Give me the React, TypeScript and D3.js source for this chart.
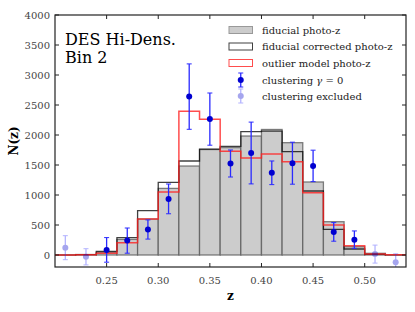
import React from "react";
import * as d3 from "d3";

// bin left edges (width 0.02)
const binStarts = [0.2, 0.22, 0.24, 0.26, 0.28, 0.3, 0.32, 0.34, 0.36, 0.38, 0.4, 0.42, 0.44, 0.46, 0.48, 0.5, 0.52];
const binWidth = 0.02;

const fiducial = [0, 8, 45, 260, 600, 1110, 1483, 1758, 1790, 1983, 2092, 1872, 1217, 555, 138, 28, 0];
const corrected = [0, 5, 62, 290, 740, 1210, 1567, 1765, 1810, 2055, 2065, 1722, 1067, 428, 100, 12, 0];
const outlier = [0, 3, 28, 205, 600, 1050, 2395, 2262, 1730, 1615, 1683, 1555, 1038, 500, 155, 17, 3];

const zIncluded = [0.25, 0.27, 0.29, 0.31, 0.33, 0.35, 0.37, 0.39, 0.41, 0.43, 0.45, 0.47, 0.49];
const nIncluded = [85, 240, 425, 935, 2640, 2265, 1525, 1700, 1370, 1530, 1485, 385, 256];
const errIncluded = [205, 210, 160, 248, 545, 435, 225, 515, 197, 350, 262, 155, 145];

const zExcluded = [0.21, 0.23, 0.51, 0.53];
const nExcluded = [122, -30, 15, -120];
const errExcluded = [200, 135, 150, 140];

const xTicks = [0.25, 0.3, 0.35, 0.4, 0.45, 0.5];
const yTicks = [0, 500, 1000, 1500, 2000, 2500, 3000, 3500, 4000];

const legendLabels = [
  "fiducial photo-z",
  "fiducial corrected photo-z",
  "outlier model photo-z",
  "clustering ",
  "clustering excluded",
];

const W = 415;
const H = 312;
const left = 55, right = 406, top = 15, bottom = 267;
const font = "DejaVu Serif";

const x = d3.scaleLinear().domain([0.2, 0.54]).range([left, right]);
const y = d3.scaleLinear().domain([-200, 4000]).range([bottom, top]);

function stepPath(values: number[]) {
  const pts: [number, number][] = [[binStarts[0], 0]];
  values.forEach((v, i) => {
    pts.push([binStarts[i], v]);
    pts.push([binStarts[i] + binWidth, v]);
  });
  pts.push([binStarts[binStarts.length - 1] + binWidth, 0]);
  return d3.line<[number, number]>().x((d) => x(d[0])).y((d) => y(d[1]))(pts) ?? "";
}

function ErrPoints({ zs, ns, es, opacity }: { zs: number[]; ns: number[]; es: number[]; opacity: number }) {
  return (
    <g opacity={opacity}>
      {zs.map((z, i) => {
        const cx = x(z);
        const y1 = y(ns[i] + es[i]);
        const y2 = y(ns[i] - es[i]);
        return (
          <g key={i}>
            <line x1={cx} x2={cx} y1={y1} y2={y2} stroke="#2a2aff" strokeWidth={1.3} />
            <line x1={cx - 2.5} x2={cx + 2.5} y1={y1} y2={y1} stroke="#2a2aff" strokeWidth={1} />
            <line x1={cx - 2.5} x2={cx + 2.5} y1={y2} y2={y2} stroke="#2a2aff" strokeWidth={1} />
            <circle cx={cx} cy={y(ns[i])} r={3} fill="#0000d0" />
          </g>
        );
      })}
    </g>
  );
}

export default function App() {
  const legendY = [30, 46.5, 63, 80, 96];
  const lx = 229, lw = 23.5, lh = 7;
  return (
    <svg width={W} height={H} style={{ position: "absolute", left: 0, top: 0, background: "#fff" }}>
      <defs>
        <clipPath id="plot">
          <rect x={left} y={top} width={right - left} height={bottom - top} />
        </clipPath>
      </defs>
      <rect width={W} height={H} fill="#fff" />
      <g clipPath="url(#plot)">
        {binStarts.map((b, i) => (
          <rect
            key={i}
            x={x(b)}
            y={y(Math.max(fiducial[i], 0))}
            width={x(b + binWidth) - x(b)}
            height={y(0) - y(Math.max(fiducial[i], 0))}
            fill="#cccccc"
            stroke="#555"
            strokeOpacity={0.75}
            strokeWidth={1.3}
          />
        ))}
        <path d={stepPath(corrected)} fill="none" stroke="#000" strokeOpacity={0.75} strokeWidth={1.3} />
        <path d={stepPath(outlier)} fill="none" stroke="#ff2020" strokeOpacity={0.8} strokeWidth={1.5} />
        <ErrPoints zs={zExcluded} ns={nExcluded} es={errExcluded} opacity={0.35} />
        <ErrPoints zs={zIncluded} ns={nIncluded} es={errIncluded} opacity={1} />
      </g>

      {/* frame and ticks */}
      <rect x={left} y={top} width={right - left} height={bottom - top} fill="none" stroke="#222" strokeWidth={1.2} />
      <g fontFamily={font}>
        {xTicks.map((t) => (
          <g key={t}>
            <line x1={x(t)} x2={x(t)} y1={bottom} y2={bottom - 4} stroke="#222" />
            <line x1={x(t)} x2={x(t)} y1={top} y2={top + 4} stroke="#222" />
            <text x={x(t)} y={284} textAnchor="middle" fontSize={10} fill="#444">
              {d3.format(".2f")(t)}
            </text>
          </g>
        ))}
        {yTicks.map((t) => (
          <g key={t}>
            <line x1={left} x2={left + 4} y1={y(t)} y2={y(t)} stroke="#222" />
            <line x1={right} x2={right - 4} y1={y(t)} y2={y(t)} stroke="#222" />
            <text x={left - 5} y={y(t) + 3.5} textAnchor="end" fontSize={10} fill="#444">
              {t}
            </text>
          </g>
        ))}
        <text x={x(0.37)} y={300} textAnchor="middle" fontSize={12} fontWeight="bold">z</text>
        <text transform={`translate(18,${(top + bottom) / 2}) rotate(-90)`} textAnchor="middle" fontSize={12} fontWeight="bold">
          N(z)
        </text>

        {/* title */}
        <text x={65} y={45} fontSize={16}>DES Hi-Dens.</text>
        <text x={65} y={63} fontSize={16}>Bin 2</text>

        {legendLabels.map((l, i) => (
          <text key={i} x={262} y={legendY[i] + 3.8} fontSize={10} fill="#222">
            {l}
            {i === 3 && (
              <>
                <tspan fontStyle="italic">γ</tspan>
                <tspan> = 0</tspan>
              </>
            )}
          </text>
        ))}
      </g>

      {/* legend handles */}
      <rect x={lx} y={legendY[0] - lh / 2} width={lw} height={lh} fill="#cccccc" stroke="#999" />
      <rect x={lx} y={legendY[1] - lh / 2} width={lw} height={lh} fill="#fff" stroke="#000" strokeOpacity={0.75} />
      <rect x={lx} y={legendY[2] - lh / 2} width={lw} height={lh} fill="#fff" stroke="#ff2020" strokeOpacity={0.8} />
      {[3, 4].map((k) => {
        const cx = lx + lw / 2;
        const cy = legendY[k];
        return (
          <g key={k} opacity={k === 3 ? 1 : 0.35}>
            <line x1={cx} x2={cx} y1={cy - 7} y2={cy + 7} stroke="#2a2aff" strokeWidth={1.3} />
            <line x1={cx - 2.5} x2={cx + 2.5} y1={cy - 7} y2={cy - 7} stroke="#2a2aff" />
            <line x1={cx - 2.5} x2={cx + 2.5} y1={cy + 7} y2={cy + 7} stroke="#2a2aff" />
            <circle cx={cx} cy={cy} r={3} fill="#0000d0" />
          </g>
        );
      })}
    </svg>
  );
}
